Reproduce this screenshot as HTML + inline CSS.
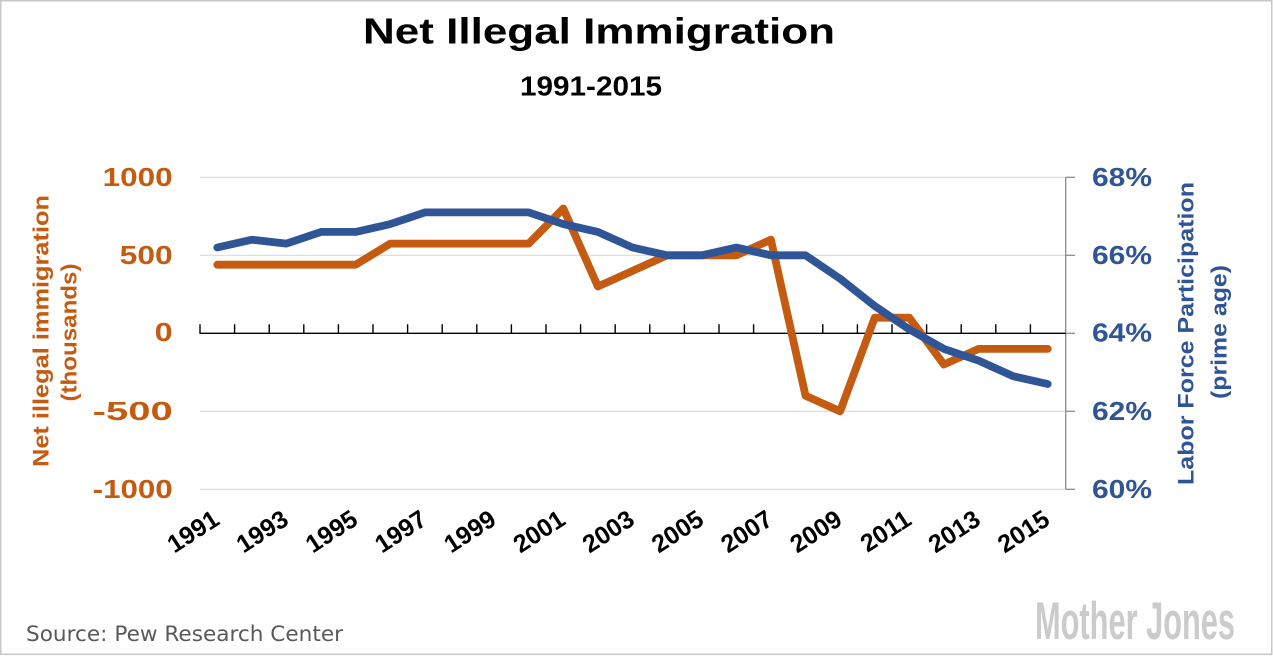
<!DOCTYPE html>
<html>
<head>
<meta charset="utf-8">
<style>
html,body{margin:0;padding:0;background:#fff;}
svg{display:block;}
text{font-family:"Liberation Sans",sans-serif;}
</style>
</head>
<body>
<svg width="1273" height="656" viewBox="0 0 1273 656" xmlns="http://www.w3.org/2000/svg">
<rect x="0" y="0" width="1273" height="656" fill="#fff"/>
<rect x="0.75" y="0.75" width="1271" height="653.5" fill="none" stroke="#c8c8c8" stroke-width="1.5"/>

<!-- Title -->
<text x="363" y="43.3" font-size="36" font-weight="bold" fill="#000" textLength="472" lengthAdjust="spacingAndGlyphs">Net Illegal Immigration</text>
<text x="520" y="95.7" font-size="27.5" font-weight="bold" fill="#000" textLength="142" lengthAdjust="spacingAndGlyphs">1991-2015</text>

<!-- gridlines -->
<g stroke="#dcdcdc" stroke-width="1.2">
<line x1="200" y1="177.3" x2="1065.7" y2="177.3"/>
<line x1="200" y1="255.3" x2="1065.7" y2="255.3"/>
<line x1="200" y1="411.3" x2="1065.7" y2="411.3"/>
<line x1="200" y1="489.3" x2="1065.7" y2="489.3"/>
</g>

<!-- right axis -->
<g stroke="#8c8c8c" stroke-width="1.3" fill="none">
<line x1="1065.7" y1="177.3" x2="1065.7" y2="489.3"/>
<line x1="1065.7" y1="177.3" x2="1075" y2="177.3"/>
<line x1="1065.7" y1="255.3" x2="1075" y2="255.3"/>
<line x1="1065.7" y1="333.3" x2="1075" y2="333.3"/>
<line x1="1065.7" y1="411.3" x2="1075" y2="411.3"/>
<line x1="1065.7" y1="489.3" x2="1075" y2="489.3"/>
</g>

<!-- x axis -->
<g stroke="#000" stroke-width="1.4">
<line x1="199.5" y1="333.3" x2="1065.7" y2="333.3"/>
<path d="M200,324.3V333.3 M234.6,324.3V333.3 M269.2,324.3V333.3 M303.8,324.3V333.3 M338.4,324.3V333.3 M373,324.3V333.3 M407.6,324.3V333.3 M442.2,324.3V333.3 M476.8,324.3V333.3 M511.4,324.3V333.3 M546,324.3V333.3 M580.6,324.3V333.3 M615.2,324.3V333.3 M649.8,324.3V333.3 M684.4,324.3V333.3 M719,324.3V333.3 M753.6,324.3V333.3 M788.2,324.3V333.3 M822.8,324.3V333.3 M857.4,324.3V333.3 M892,324.3V333.3 M926.6,324.3V333.3 M961.2,324.3V333.3 M995.8,324.3V333.3 M1030.4,324.3V333.3"/>
</g>

<!-- left axis labels -->
<g font-size="26" font-weight="bold" fill="#c55a11" text-anchor="end">
<text x="172.7" y="186" textLength="70" lengthAdjust="spacingAndGlyphs">1000</text>
<text x="172.7" y="263.8" textLength="53" lengthAdjust="spacingAndGlyphs">500</text>
<text x="172.7" y="341" textLength="18" lengthAdjust="spacingAndGlyphs">0</text>
<text x="172.7" y="419.8" textLength="80" lengthAdjust="spacingAndGlyphs">-500</text>
<text x="172.7" y="498" textLength="80" lengthAdjust="spacingAndGlyphs">-1000</text>
</g>

<!-- right axis labels -->
<g font-size="26" font-weight="bold" fill="#2f5597">
<text x="1092" y="186" textLength="60" lengthAdjust="spacingAndGlyphs">68%</text>
<text x="1092" y="263.8" textLength="60" lengthAdjust="spacingAndGlyphs">66%</text>
<text x="1092" y="341.5" textLength="60" lengthAdjust="spacingAndGlyphs">64%</text>
<text x="1092" y="419.8" textLength="60" lengthAdjust="spacingAndGlyphs">62%</text>
<text x="1092" y="498" textLength="60" lengthAdjust="spacingAndGlyphs">60%</text>
</g>

<!-- axis titles -->
<g font-size="22" font-weight="bold" fill="#c55a11" text-anchor="middle">
<text transform="translate(48.3,331) rotate(-90)" textLength="272" lengthAdjust="spacingAndGlyphs">Net illegal immigration</text>
<text transform="translate(76.5,332.5) rotate(-90)" textLength="138" lengthAdjust="spacingAndGlyphs">(thousands)</text>
</g>
<g font-size="22" font-weight="bold" fill="#2f5597" text-anchor="middle">
<text transform="translate(1193.5,333.5) rotate(-90)" textLength="303" lengthAdjust="spacingAndGlyphs">Labor Force Participation</text>
<text transform="translate(1226.5,332) rotate(-90)" textLength="134" lengthAdjust="spacingAndGlyphs">(prime age)</text>
</g>

<!-- x labels -->
<g font-size="25" font-weight="bold" fill="#000" text-anchor="end">
<text transform="translate(221,523.4) rotate(-33)">1991</text>
<text transform="translate(290.2,523.4) rotate(-33)">1993</text>
<text transform="translate(359.4,523.4) rotate(-33)">1995</text>
<text transform="translate(428.6,523.4) rotate(-33)">1997</text>
<text transform="translate(497.8,523.4) rotate(-33)">1999</text>
<text transform="translate(567,523.4) rotate(-33)">2001</text>
<text transform="translate(636.2,523.4) rotate(-33)">2003</text>
<text transform="translate(705.4,523.4) rotate(-33)">2005</text>
<text transform="translate(774.6,523.4) rotate(-33)">2007</text>
<text transform="translate(843.8,523.4) rotate(-33)">2009</text>
<text transform="translate(913,523.4) rotate(-33)">2011</text>
<text transform="translate(982.2,523.4) rotate(-33)">2013</text>
<text transform="translate(1051.4,523.4) rotate(-33)">2015</text>
</g>

<!-- orange series -->
<polyline fill="none" stroke="#c55a11" stroke-width="7.8" stroke-linecap="round" stroke-linejoin="round"
points="217.3,264.7 251.9,264.7 286.5,264.7 321.1,264.7 355.7,264.7 390.3,243.6 424.9,243.6 459.5,243.6 494.1,243.6 528.7,243.6 563.3,208.5 597.9,286.5 632.5,270.9 667.1,255.3 701.7,255.3 736.3,255.3 770.9,239.7 805.5,395.7 840.1,411.3 874.7,317.7 909.3,317.7 943.9,364.5 978.5,348.9 1013.1,348.9 1047.7,348.9"/>

<!-- blue series -->
<polyline fill="none" stroke="#2f5597" stroke-width="7.8" stroke-linecap="round" stroke-linejoin="round"
points="217.3,247.5 251.9,239.7 286.5,243.6 321.1,231.9 355.7,231.9 390.3,224.1 424.9,212.4 459.5,212.4 494.1,212.4 528.7,212.4 563.3,224.1 597.9,231.9 632.5,247.5 667.1,255.3 701.7,255.3 736.3,247.5 770.9,255.3 805.5,255.3 840.1,278.7 874.7,306 909.3,329.4 943.9,348.9 978.5,360.6 1013.1,376.2 1047.7,384"/>

<!-- source -->
<text x="26" y="641" font-size="21" fill="#595959" textLength="317" lengthAdjust="spacingAndGlyphs" style="font-family:'DejaVu Sans',sans-serif">Source: Pew Research Center</text>

<!-- logo -->
<text x="1035" y="639" font-size="53" font-weight="bold" fill="#cbcbcb" textLength="200" lengthAdjust="spacingAndGlyphs" style="font-family:'Liberation Sans Narrow','Liberation Sans',sans-serif">Mother Jones</text>
</svg>
</body>
</html>
